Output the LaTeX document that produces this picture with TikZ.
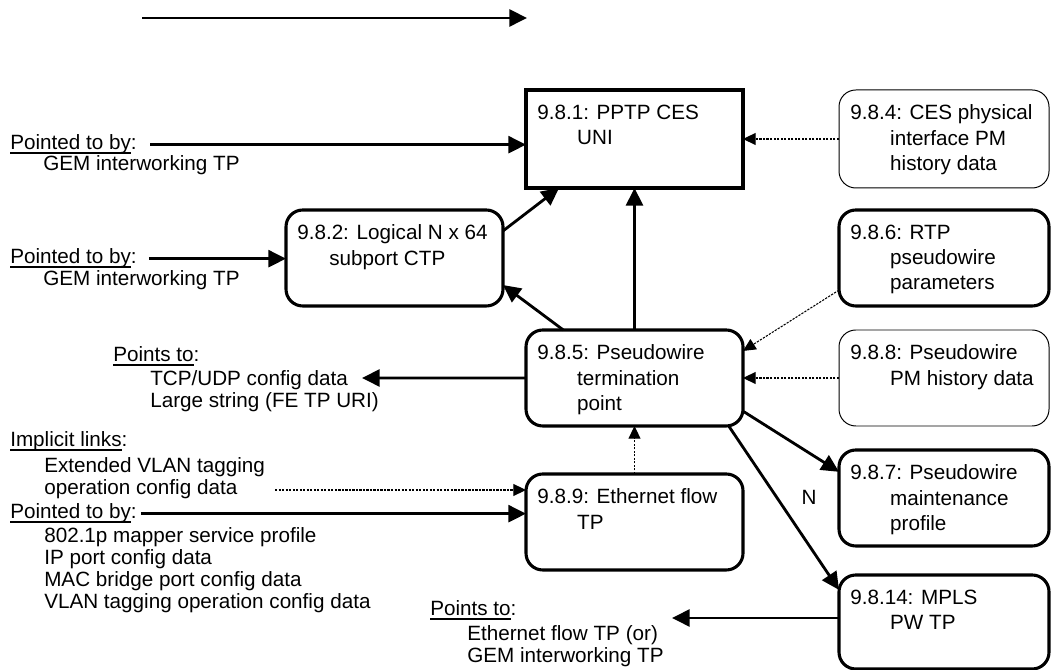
\documentclass[tikz,border=0pt]{standalone}
\usepackage{fontspec}
\setmainfont{Liberation Sans}
\usepackage{tikz}
\usetikzlibrary{arrows.meta,calc}

\newcommand{\ind}{\hspace*{1.93em}}
\newcommand{\hd}[1]{\setbox0\hbox{#1}\rlap{\rule[-0.17em]{\wd0}{0.07em}}\box0}

\begin{document}
\begin{tikzpicture}[font=\fontsize{14.7}{18.1}\selectfont,
		blk/.style={draw, line width=2.2pt, rounded corners=0.42cm, outer sep=0pt, inner sep=0pt, anchor=north west, minimum height=2.4cm},
		sqblk/.style={blk, sharp corners},
		thinblk/.style={blk, line width=0.7pt},
		btxt/.style={anchor=north west, align=left, inner xsep=0.275cm, inner ysep=0.36cm},
		ltxt/.style={anchor=north west, align=left, inner sep=0pt, font=\fontsize{14.7}{15.8}\selectfont},
		lhead/.style={anchor=base west, inner sep=0pt},
		link/.style={line width=2pt, -{Triangle[length=12.5pt,width=12pt]}},
		dlink/.style={line width=0.75pt, dash pattern=on 1.6pt off 0.9pt, -{Triangle[length=9pt,width=8.5pt]}}]
		\def\cw{5.425cm}\def\rw{5.25cm}
		\useasboundingbox (0,0) rectangle (26.275,16.75);
		% ---- direction arrow ----
		\coordinate (dira) at (3.55,16.3);
		\coordinate (dirb) at (13.175,16.3);
		\draw[link] (dira) -- (dirb);
		% ---- boxes ----
		\node[sqblk, minimum width=\cw, minimum height=2.45cm] (ppt) at (13.15,14.5) {};
		\node[thinblk, minimum width=\rw, minimum height=2.45cm] (ces) at (20.975,14.5) {};
		\node[blk, minimum width=\cw] (lgc) at (7.15,11.5) {};
		\node[blk, minimum width=\rw] (rtp) at (20.975,11.5) {};
		\node[blk, minimum width=\cw] (pw) at (13.15,8.5) {};
		\node[thinblk, minimum width=\rw] (pmh) at (20.975,8.5) {};
		\node[blk, minimum width=\rw] (mnt) at (20.975,5.5) {};
		\node[blk, minimum width=\cw] (eth) at (13.15,4.9) {};
		\node[blk, minimum width=\rw, minimum height=2.35cm] (mpl) at (20.975,2.375) {};
		% ---- box texts ----
		\node[btxt] (ppt-t) at (ppt.north west) {9.8.1: PPTP CES\\\ind UNI};
		\node[btxt] (ces-t) at (ces.north west) {9.8.4: CES physical\\\ind interface PM\\\ind history data};
		\node[btxt] (lgc-t) at (lgc.north west) {9.8.2: Logical N x 64\\\hspace*{1.55em}subport CTP};
		\node[btxt] (rtp-t) at (rtp.north west) {9.8.6: RTP\\\ind pseudowire\\\ind parameters};
		\node[btxt] (pw-t) at (pw.north west) {9.8.5: Pseudowire\\\ind termination\\\ind point};
		\node[btxt] (pmh-t) at (pmh.north west) {9.8.8: Pseudowire\\\ind PM history data};
		\node[btxt] (mnt-t) at (mnt.north west) {9.8.7: Pseudowire\\\ind maintenance\\\ind profile};
		\node[btxt] (eth-t) at (eth.north west) {9.8.9: Ethernet flow\\\ind TP};
		\node[btxt] (mpl-t) at (mpl.north west) {9.8.14: MPLS\\\ind PW TP};
		% ---- texts on the left ----
		\node[lhead] (h1) at (0.25,13.0) {\hd{Pointed to by}:};
		\node[ltxt] (l1) at (1.075,12.875) {GEM interworking TP};
		\node[lhead] (h2) at (0.25,10.15) {\hd{Pointed to by}:};
		\node[ltxt] (l2) at (1.075,10.0) {GEM interworking TP};
		\node[lhead] (h3) at (2.825,7.7) {\hd{Points to}:};
		\node[ltxt] (l3) at (3.75,7.5) {TCP/UDP config data\\Large string (FE TP URI)};
		\node[lhead] (h4) at (0.25,5.575) {\hd{Implicit links}:};
		\node[ltxt] (l4) at (1.1,5.325) {Extended VLAN tagging\\operation config data};
		\node[lhead] (h5) at (0.25,3.775) {\hd{Pointed to by}:};
		\node[ltxt] (l5) at (1.1,3.575) {802.1p mapper service profile\\IP port config data\\MAC bridge port config data\\VLAN tagging operation config data};
		\node[lhead] (h6) at (10.75,1.35) {\hd{Points to}:};
		\node[ltxt] (l6) at (11.675,1.125) {Ethernet flow TP (or)\\GEM interworking TP};
		\node (nmk) at (20.225,4.325) {N};
		% ---- links ----
		\coordinate (pt1) at (9.05,7.3);
		\coordinate (pt2) at (16.8,1.3);
		\coordinate (ilk) at (6.875,4.5);
		\draw[link] ([xshift=0.33cm]h1.east) -- (h1.east -| ppt.west);
		\draw[link] ([xshift=0.3cm]h2.east) -- (h2.east -| lgc.west);
		\draw[link] ([xshift=0.1cm]h5.east) -- (h5.east -| eth.west);
		\draw[link] (lgc.14.5) -- (ppt.213);
		\draw[link] (pw.north) -- (ppt.south);
		\draw[link] (pw.146) -- (lgc.-14);
		\draw[link] (pw.west) -- (pt1);
		\draw[link] (pw.-17.9) -- (mnt.166.6);
		\draw[link] (pw.-27.4) -- (mpl.163);
		\draw[link] (pt2 -| mpl.west) -- (pt2);
		\draw[dlink] (ces.west) -- (ppt.east);
		\draw[dlink] (rtp.197.9) -- (pw.14.5);
		\draw[dlink] (pmh.west) -- (pw.east);
		\draw[dlink] (eth.north) -- (pw.south);
		\draw[dlink] (ilk) -- (ilk -| eth.west);
	\end{tikzpicture}
\end{document}
